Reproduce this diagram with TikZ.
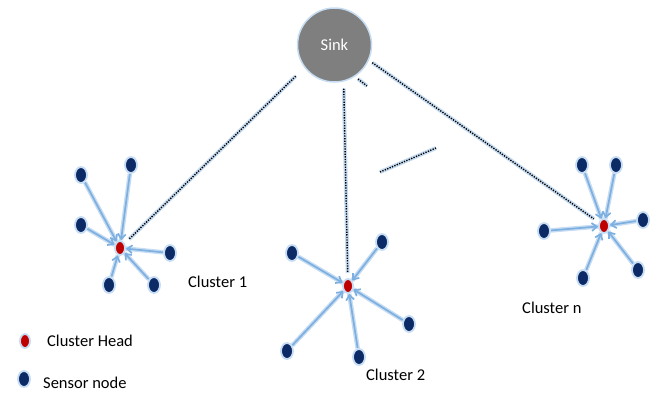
\documentclass[tikz,border=0pt]{standalone}
\usepackage{fontspec}
\setmainfont{Carlito}
\usetikzlibrary{shapes.geometric,arrows.meta}
\definecolor{glow}{HTML}{C6DCF2}
\definecolor{armblue}{HTML}{7DAFE0}
\definecolor{navy}{HTML}{0B2A66}
\definecolor{headred}{HTML}{C00000}
\definecolor{sinkgray}{HTML}{7F7F7F}
\pgfdeclarelayer{bg}
\pgfsetlayers{bg,main}
\tikzset{
  sensor/.style={ellipse, fill=navy, draw=glow, line width=1.8pt,
    minimum width=12pt, minimum height=16pt, inner sep=0pt},
  chead/.style={ellipse, fill=headred, draw=glow, line width=1.8pt,
    minimum width=10pt, minimum height=14pt, inner sep=0pt},
  sinknode/.style={circle, fill=sinkgray, draw=glow, line width=1.5pt,
    minimum size=74pt, inner sep=0pt, text=white},
  link/.style={draw=armblue, line width=1.7pt,
    -{Straight Barb[length=5pt,width=8pt]},
    preaction={draw=glow, line width=4.5pt, -{}}},
  dotline/.style={draw=black, line width=1.4pt, dash pattern=on 1.3pt off 1.3pt,
    preaction={draw=glow, line width=4pt, solid}},
  lbl/.style={inner sep=0pt, anchor=base west, font=\fontsize{16.5}{19}\selectfont}
}
\begin{document}
\begin{tikzpicture}[x=1pt,y=-1pt]
\useasboundingbox (0,0) rectangle (656,394);

% sink
\node[sinknode, font=\fontsize{16.5}{19}\selectfont] (sink) at (334.5,45) {Sink};

% cluster heads
\node[chead] (h1) at (120,248) {};
\node[chead] (h2) at (348,286) {};
\node[chead] (hn) at (604,226) {};

% sensors of cluster 1
\node[sensor] (a1) at (81,175) {};
\node[sensor] (a2) at (131,165) {};
\node[sensor] (a3) at (81,225) {};
\node[sensor] (a4) at (170,253) {};
\node[sensor] (a5) at (109,285) {};
\node[sensor] (a6) at (154,285) {};

% sensors of cluster 2
\node[sensor] (b1) at (292,253) {};
\node[sensor] (b2) at (382,242) {};
\node[sensor] (b3) at (409,324) {};
\node[sensor] (b4) at (287,351) {};
\node[sensor] (b5) at (359,357) {};

% sensors of cluster n
\node[sensor] (c1) at (582,165) {};
\node[sensor] (c2) at (616,165) {};
\node[sensor] (c3) at (643,220) {};
\node[sensor] (c4) at (544,231) {};
\node[sensor] (c5) at (638,270) {};
\node[sensor] (c6) at (583,278) {};

\begin{pgfonlayer}{bg}
  \foreach \s in {a1,a2,a3,a4,a5,a6} \draw[link] (\s) -- (h1);
  \foreach \s in {b1,b2,b3,b4,b5} \draw[link] (\s) -- (h2);
  \foreach \s in {c1,c2,c3,c4,c5,c6} \draw[link] (\s) -- (hn);
\end{pgfonlayer}

% dotted links from the sink to the cluster heads
\draw[dotline, shorten <=12pt, shorten >=6pt] (sink.217) -- (h1);
\draw[dotline, shorten <=7pt, shorten >=5pt] (sink.-76) -- (h2);
\draw[dotline, shorten <=4pt, shorten >=6pt] (sink.-24) -- (hn);

% loose dotted pieces
\coordinate (d1) at (358,79);
\coordinate (d2) at (367,86);
\coordinate (e1) at (380,172);
\coordinate (e2) at (436,148);
\draw[dotline] (d1) -- (d2);
\draw[dotline] (e1) -- (e2);

% cluster labels
\node[lbl] (l1) at (188,287.5) {Cluster 1};
\node[lbl] (l2) at (366,380.5) {Cluster 2};
\node[lbl] (ln) at (522,313.5) {Cluster n};

% legend
\node[chead] (k1) at (25,341) {};
\node[sensor] (k2) at (24,379) {};
\node[lbl] (t1) at (47,346.5) {Cluster Head};
\node[lbl] (t2) at (43,388.5) {Sensor node};
\end{tikzpicture}
\end{document}
